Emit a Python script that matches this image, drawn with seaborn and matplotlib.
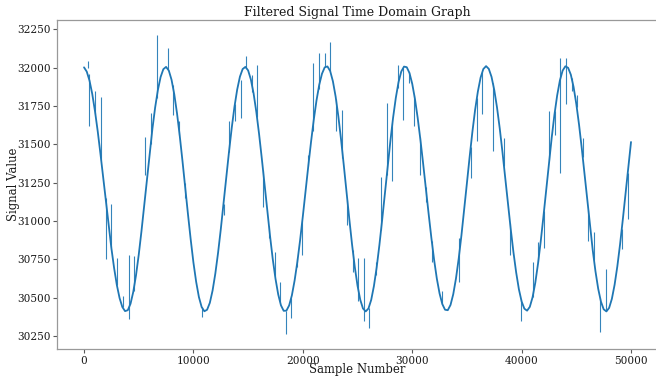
import numpy as np
import pandas as pd
import matplotlib
matplotlib.use("Agg")
import matplotlib.pyplot as plt
import seaborn as sns

# Filtered signal, one reading every 250 samples
sample_step = 250
signal_values = [
    32002, 31974, 31916, 31829, 31717, 31586, 31439, 31284, 31125, 30970, 30823, 30693, 30582, 30497, 30439, 30412,
    30418, 30460, 30537, 30645, 30779, 30933, 31101, 31273, 31442, 31601, 31740, 31854, 31939, 31990,
    32005, 31981, 31921, 31826, 31702, 31555, 31391, 31218, 31045, 30880, 30729, 30603, 30504, 30439, 30411,
    30421, 30466, 30546, 30656, 30791, 30945, 31112, 31283, 31450, 31606, 31744, 31857, 31941, 31991,
    32005, 31982, 31923, 31832, 31711, 31568, 31408, 31238, 31067, 30904, 30752, 30624, 30521, 30450, 30414,
    30415, 30449, 30515, 30612, 30733, 30874, 31030, 31194, 31358, 31515, 31660, 31786, 31888, 31960, 32002,
    32008, 31978, 31911, 31811, 31681, 31528, 31360, 31185, 31012, 30847, 30700, 30578, 30486, 30429, 30410,
    30429, 30485, 30576, 30697, 30843, 31006, 31179, 31353, 31519, 31673, 31803, 31906, 31975, 32007,
    32003, 31965, 31895, 31796, 31672, 31529, 31373, 31209, 31047, 30890, 30747, 30624, 30527, 30458, 30421,
    30418, 30452, 30522, 30625, 30755, 30907, 31074, 31247, 31419, 31581, 31725, 31844, 31935, 31991, 32010,
    31992, 31940, 31854, 31741, 31604, 31449, 31283, 31115, 30950, 30798, 30665, 30555, 30475, 30428,
    30415, 30440, 30502, 30597, 30722, 30869, 31033, 31205, 31378, 31543, 31693, 31819, 31917, 31981, 32009,
    31999, 31954, 31874, 31763, 31628, 31473, 31306, 31135, 30966, 30810, 30672, 30558, 30474, 30424,
    30410, 30433, 30492, 30584, 30704, 30848, 31009, 31179, 31351, 31515,
]

# Single-sample glitches: sample index, level before the glitch, glitch level
spike_samples = [
    400, 457, 1005, 1523, 2011, 2498, 3017, 3535, 4083, 4570, 5606, 6094, 6643,
    7650, 8165, 8684, 9232, 10755, 12826, 13255, 13803, 14352, 14780, 15330, 15841,
    16390, 16911, 17460, 17916, 18437, 18922, 19443, 19955, 20503, 20960, 21509,
    22030, 22487, 23035, 23556, 24068, 24562, 25073, 25595, 26080, 26660, 27148,
    27670, 28180, 28670, 29180, 29710, 30190, 30710, 31230, 31780, 32750, 34280,
    35350, 35900, 36410, 37415, 38390, 38940, 39945, 41015, 41530, 42050, 42530,
    43050, 43510, 44060, 44580, 45040, 45590, 46100, 46620, 47170, 47690, 49150, 49700,
]
spike_from = [
    31995, 31960, 31700, 31400, 31150, 30830, 30585, 30440, 30360, 30540, 31300, 31505, 31800,
    31990, 31890, 31650, 31250, 30440, 31040, 31450, 31765, 31920, 32000, 31950, 31680,
    31330, 30970, 30640, 30470, 30410, 30495, 30700, 31000, 31360, 31590, 31860,
    32005, 31980, 31795, 31410, 31135, 30810, 30476, 30350, 30430, 30650, 30940,
    31300, 31640, 31870, 32000, 31970, 31820, 31550, 31220, 30870, 30460, 30600,
    31480, 31800, 31970, 31900, 31360, 30990, 30490, 30505, 30735, 31065, 31400,
    31715, 31315, 31760, 31935, 31745, 31420, 31070, 30745, 30500, 30410, 30945, 31310,
]
spike_to = [
    32045, 31620, 31850, 31810, 30750, 31110, 30760, 30510, 30780, 30770, 31550, 31705, 32215,
    32125, 31690, 31560, 31150, 30375, 31110, 31650, 31650, 31670, 32075, 31840, 32015,
    31090, 30890, 30800, 30600, 30260, 30370, 30760, 30780, 31430, 32030, 32095,
    32095, 32170, 31585, 31725, 30975, 30670, 30760, 30760, 30300, 30735, 31290,
    31770, 31260, 32020, 31660, 31900, 31620, 31300, 31125, 30735, 30540, 30890,
    31280, 31520, 31695, 31455, 31540, 30780, 30345, 30730, 30865, 30825, 31715,
    31560, 32060, 32060, 31845, 31820, 31540, 30870, 30925, 30275, 30685, 30820, 31010,
]

x_ticks = [0, 10000, 20000, 30000, 40000, 50000]
y_ticks = [30250, 30500, 30750, 31000, 31250, 31500, 31750, 32000, 32250]

df = pd.DataFrame({
    "Sample Number": np.arange(len(signal_values)) * sample_step,
    "Signal Value": signal_values,
})

sns.set_style("ticks", {"axes.edgecolor": ".6", "xtick.color": ".35", "ytick.color": ".35"})
plt.rcParams["font.family"] = ["DejaVu Serif"]
plt.rcParams["text.color"] = "#1a1a1a"
plt.rcParams["axes.labelcolor"] = "#1a1a1a"

line_color = "#1f77b4"
fig = plt.figure(figsize=(6.56, 3.77), dpi=100)
ax = fig.add_axes([0.0864, 0.0735, 0.9172, 0.8735])

sns.lineplot(data=df, x="Sample Number", y="Signal Value", ax=ax,
             color=line_color, linewidth=1.3)
ax.vlines(spike_samples, spike_from, spike_to, color=line_color,
          linewidth=0.8, alpha=0.9)

ax.set_xlim(-2500, 52500)
ax.set_ylim(30163, 32311)
ax.set_xticks(x_ticks)
ax.set_yticks(y_ticks)
ax.tick_params(axis="both", labelsize=7.6, labelcolor="#1a1a1a", length=3, width=0.8, pad=1.5)
for side in ["top", "right", "left", "bottom"]:
    ax.spines[side].set_visible(True)
    ax.spines[side].set_linewidth(0.9)

ax.set_title("Filtered Signal Time Domain Graph", fontsize=9.0, pad=3)
ax.set_xlabel("Sample Number", fontsize=8.4, va="center")
ax.set_ylabel("Signal Value", fontsize=8.4, va="center")
# Axis label positions in axes fractions
ax.xaxis.set_label_coords(0.5, -0.06)
ax.yaxis.set_label_coords(-0.072, 0.5)

fig.savefig("out.png", dpi=100)
